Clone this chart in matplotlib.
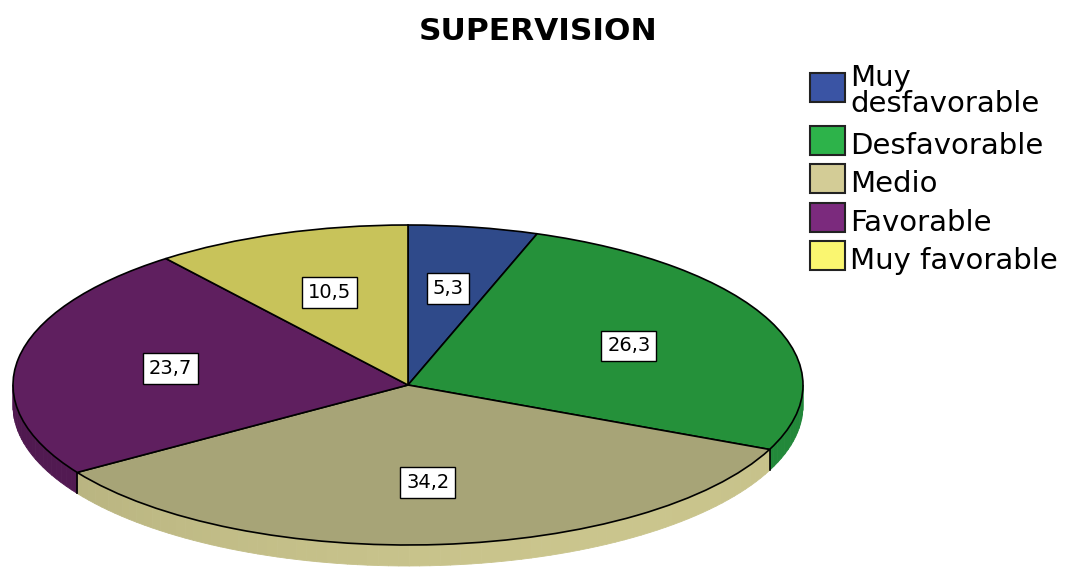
import numpy as np
import matplotlib
matplotlib.use("Agg")
import matplotlib.pyplot as plt
import matplotlib.colors as mcolors
from matplotlib.patches import Rectangle
from matplotlib.collections import PolyCollection

# Survey results (percent of respondents)
title = "SUPERVISION"
categories = ["Muy desfavorable", "Desfavorable", "Medio", "Favorable", "Muy favorable"]
percentages = [5.3, 26.3, 34.2, 23.7, 10.5]

legend_colors = ["#3A54A4", "#2DB34A", "#D3CC96", "#7B2A7D", "#FAF670"]
top_colors = ["#2F4A8A", "#25913A", "#A7A477", "#5F1F5F", "#C8C35A"]
side_colors = ["#2A4280", "#22893A", "#C6C18A", "#581C58", "#B9B450"]

W, H = 1077, 569
fig = plt.figure(figsize=(W / 100, H / 100), dpi=100)

# Elliptical pie geometry in pixels: centre, radii and rim thickness
cx, cy, rx, ry, depth = 408, 385, 395, 160, 21
d = depth / ry
xl = (-1.01, 1.01)
yl = (-1 - d - 0.04, 1.02)
left_px = cx + xl[0] * rx
width_px = (xl[1] - xl[0]) * rx
top_px = cy - yl[1] * ry
height_px = (yl[1] - yl[0]) * ry
ax = fig.add_axes([left_px / W, 1 - (top_px + height_px) / H, width_px / W, height_px / H])

wedges, _ = ax.pie(percentages, colors=top_colors, startangle=90, counterclock=False,
                   wedgeprops=dict(edgecolor="black", linewidth=1.2, zorder=3))
ax.set_aspect("auto")
ax.set_xlim(*xl)
ax.set_ylim(*yl)
ax.axis("off")


def shade(color, f):
    r, g, b = mcolors.to_rgb(color)
    return (min(1, r * f), min(1, g * f), min(1, b * f))


# Front rim of the disc, built from each wedge's angular span
polys, fills = [], []
edges = set()
for w, sc in zip(wedges, side_colors):
    t1, t2 = w.theta1, w.theta2
    for lo, hi in ((-180, 0), (180, 360)):
        a, b = max(t1, lo), min(t2, hi)
        if b <= a:
            continue
        ts = np.linspace(a, b, max(2, int((b - a) / 1.5) + 1))
        for s, e in zip(ts[:-1], ts[1:]):
            rs, re_ = np.radians(s), np.radians(e)
            quad = [(np.cos(rs), np.sin(rs)), (np.cos(re_), np.sin(re_)),
                    (np.cos(re_), np.sin(re_) - d), (np.cos(rs), np.sin(rs) - d)]
            mid = np.radians((s + e) / 2)
            f = 0.93 + 0.09 * np.cos(mid - np.radians(-60))
            polys.append(quad)
            fills.append(shade(sc, f))
        for edge in (t1, t2):
            if lo < edge < hi:
                edges.add(round(edge, 6))

ax.add_collection(PolyCollection(polys, facecolors=fills, edgecolors=fills,
                                 linewidths=0.6, zorder=1))
for e in edges:
    r = np.radians(e)
    ax.plot([np.cos(r), np.cos(r)], [np.sin(r), np.sin(r) - d],
            color="black", lw=1.2, zorder=2)

# Value labels inside each slice
for w, v in zip(wedges, percentages):
    mid = np.radians((w.theta1 + w.theta2) / 2)
    ax.text(0.61 * np.cos(mid), 0.61 * np.sin(mid), f"{v:.1f}".replace(".", ","),
            ha="center", va="center", fontsize=14, color="black", zorder=5,
            bbox=dict(boxstyle="square,pad=0.3", fc="white", ec="black", lw=1.0))

fig.text(538 / W, 1 - 40 / H, title, ha="center", va="baseline",
         fontsize=22.5, fontweight="bold", family="DejaVu Sans")

# Legend drawn as swatches with labels
box_left, box_w, box_h = 810, 35, 29
box_bottoms = [102, 155, 193, 232, 270]
for label, col, bb in zip(categories, legend_colors, box_bottoms):
    fig.add_artist(Rectangle((box_left / W, 1 - bb / H), box_w / W, box_h / H,
                             transform=fig.transFigure, facecolor=col,
                             edgecolor="#222222", linewidth=1.5))
    lines = label.split(" ", 1) if len(label) > 14 else [label]
    base = bb - 1 - 26 * (len(lines) - 1) + 11 * (len(lines) - 1)
    for k, line in enumerate(lines):
        fig.text(850 / W, 1 - (base + 26 * k) / H, line, ha="left", va="baseline",
                 fontsize=21, family="DejaVu Sans")

fig.savefig("out.png", dpi=100)
